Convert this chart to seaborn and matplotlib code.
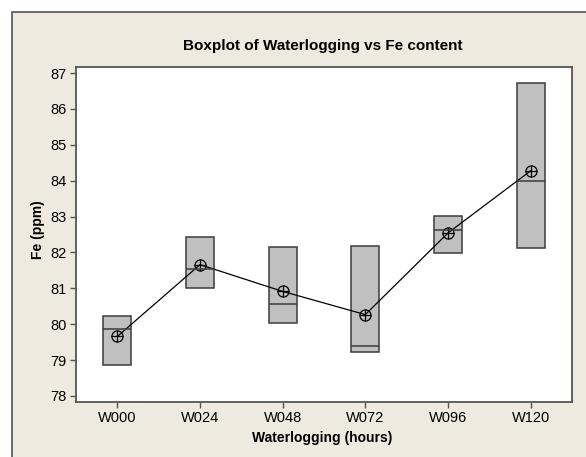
import numpy as np
import pandas as pd
import seaborn as sns
import matplotlib.pyplot as plt
from matplotlib.patches import Rectangle

groups = ["W000", "W024", "W048", "W072", "W096", "W120"]
fe_low = [78.87, 81.01, 80.03, 79.23, 81.98, 82.12]
fe_mid = [79.87, 81.54, 80.56, 79.39, 82.63, 83.99]
fe_high = [80.23, 82.43, 82.15, 82.18, 83.02, 86.72]
y_ticks = [78, 79, 80, 81, 82, 83, 84, 85, 86, 87]

# long form table for the mean line
df = pd.DataFrame({
    "group": groups * 3,
    "fe": fe_low + fe_mid + fe_high,
})

sns.set_style("ticks")
plt.rcParams["font.family"] = ["Liberation Sans", "DejaVu Sans"]

BEIGE = "#eeeae0"
DARK = "#3c3c3c"

fig = plt.figure(figsize=(5.86, 4.57), dpi=100)
fig.patch.set_facecolor("white")
# Minitab-like graph panel (cropped at right/bottom)
fig.patches.append(Rectangle((12 / 586, -0.05), 1.1, 1 - 12 / 457 + 0.05,
                             transform=fig.transFigure, facecolor=BEIGE,
                             edgecolor="#555555", linewidth=1.2, zorder=-5))

ax = fig.add_axes([76 / 586, 1 - 402 / 457, 496 / 586, 335 / 457])
ax.set_facecolor("white")

# boxes span min..max (Minitab quartiles for n=3)
box_w = 0.34
heights = np.subtract(fe_high, fe_low)
sns.barplot(x=groups, y=heights, bottom=fe_low, width=box_w, color="#c0c0c0",
            saturation=1, edgecolor=DARK, linewidth=1.1, ax=ax)

# median lines
pos = np.arange(len(groups))
ax.hlines(fe_mid, pos - box_w / 2, pos + box_w / 2, color=DARK, linewidth=1.1, zorder=3)

# mean symbols (circle + cross) connected by a line
sns.pointplot(data=df, x="group", y="fe", order=groups, estimator="mean", errorbar=None,
              color="black", markers="o", markersize=8, markerfacecolor="none",
              markeredgewidth=0.9, linewidth=0.9, ax=ax)
sns.pointplot(data=df, x="group", y="fe", order=groups, estimator="mean", errorbar=None,
              color="black", markers="+", markersize=8, markeredgewidth=0.9,
              linestyle="none", ax=ax)

ax.set_ylim(77.83, 87.17)
ax.set_xlim(-0.5, 5.5)
ax.set_yticks(y_ticks)
ax.set_xlabel("")
ax.set_ylabel("")
for s in ax.spines.values():
    s.set_visible(True)
    s.set_color("#555555")
    s.set_linewidth(1.3)
ax.tick_params(axis="both", length=4.5, width=1, color="#555555", labelsize=10.5, pad=2,
               labelcolor="#000000")

fig.text(323 / 586, 1 - 46 / 457, "Boxplot of Waterlogging vs Fe content", ha="center",
         va="center", fontsize=11, fontweight="bold", color="#000000")
fig.text(322 / 586, 1 - 438 / 457, "Waterlogging (hours)", ha="center", va="center",
         fontsize=10, fontweight="bold", color="#000000")
fig.text(38 / 586, 1 - 230 / 457, "Fe (ppm)", ha="center", va="center", rotation=90,
         fontsize=10, fontweight="bold", color="#000000")

fig.savefig("out.png", dpi=100, facecolor=fig.get_facecolor())
